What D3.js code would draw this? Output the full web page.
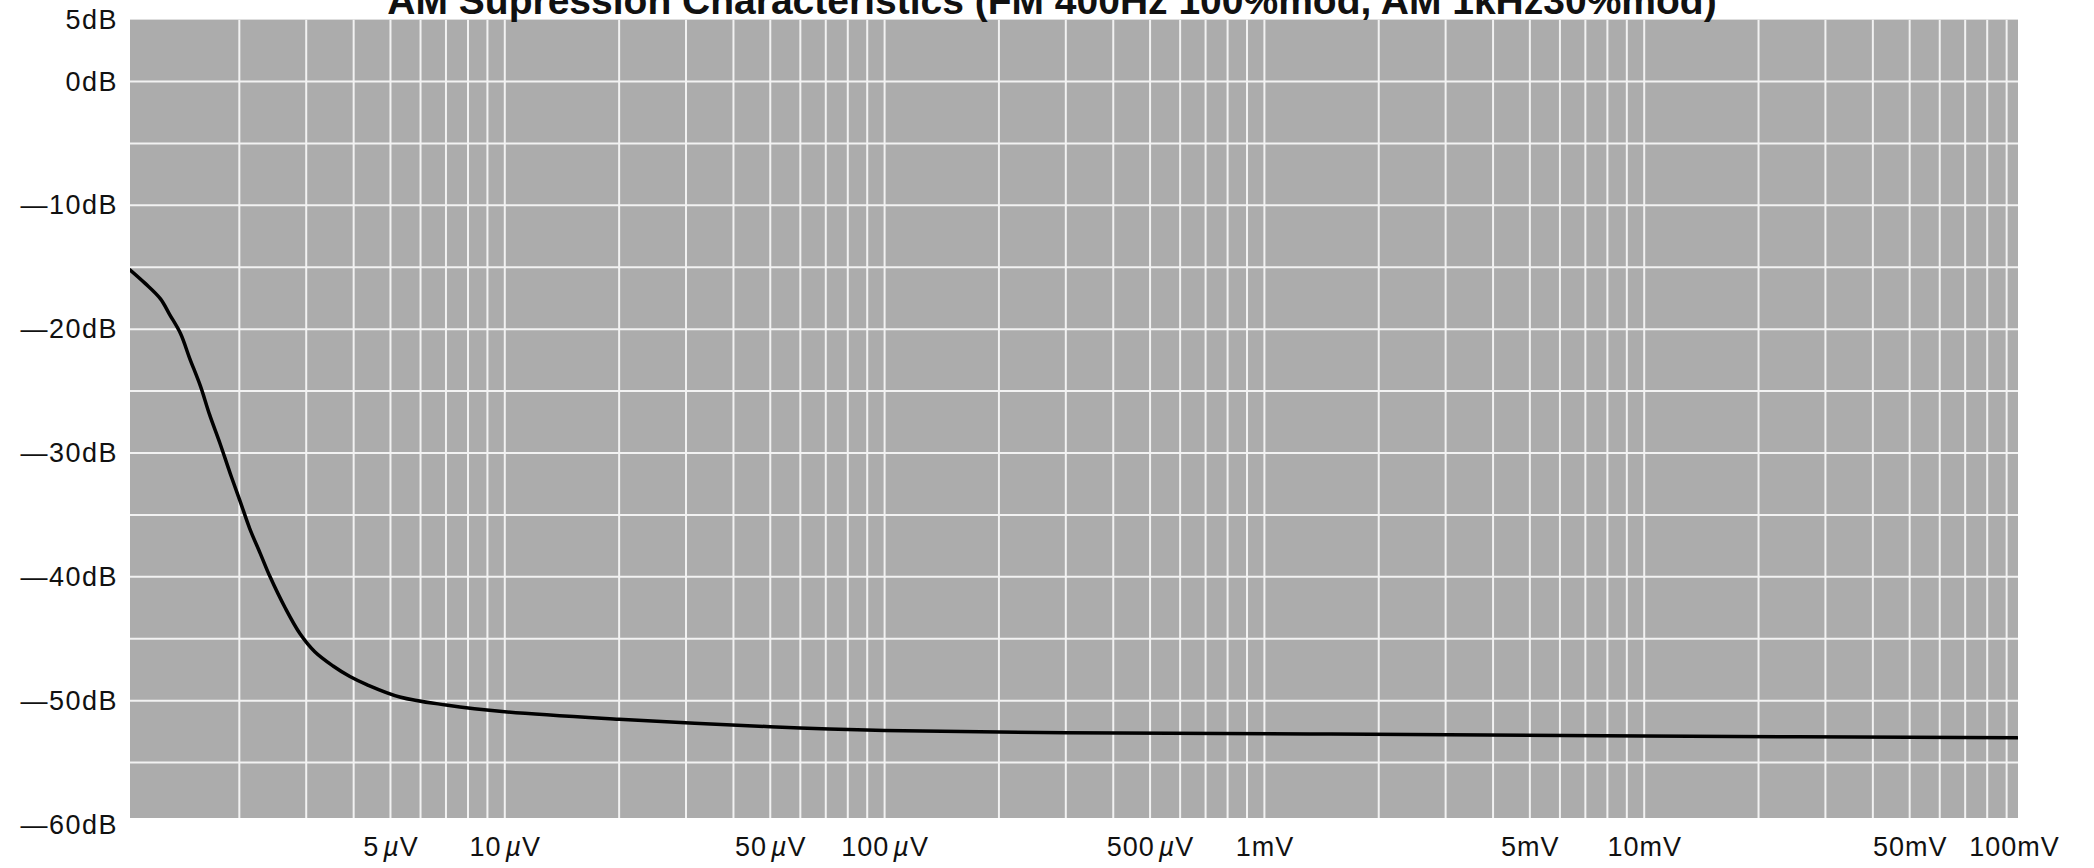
<!DOCTYPE html>
<html>
<head>
<meta charset="utf-8">
<script src="https://cdn.jsdelivr.net/npm/d3@7"></script>
<style>
  html, body { margin: 0; padding: 0; background: #ffffff; }
  svg { display: block; }
  text { font-family: "Liberation Sans", Arial, Helvetica, sans-serif; fill: #111; }
</style>
</head>
<body>
<svg id="chart" width="2094" height="868"></svg>
<script>
// ---- data ----
const titleText = "AM Supression Characteristics (FM 400Hz 100%mod, AM 1kHz30%mod)";
// input level in microvolts
const inputMicroVolts = [1.03, 1.13, 1.24, 1.31, 1.40, 1.48, 1.58, 1.67, 1.78, 1.89, 2.01, 2.13, 2.27, 2.41, 2.64, 2.89, 3.16, 3.53, 3.91, 4.33, 5.29, 7, 10, 20, 50, 100, 300, 1500, 10000, 96000];
// AM suppression in dB
const suppressionDb = [-15.2, -16.3, -17.55, -18.8, -20.35, -22.35, -24.6, -26.9, -29.25, -31.6, -33.9, -36.1, -38.1, -40.0, -42.5, -44.6, -46.05, -47.2, -48.05, -48.7, -49.7, -50.35, -50.9, -51.5, -52.1, -52.4, -52.6, -52.7, -52.85, -53.0];
// axis ticks
const yTickValues = [5, 0, -10, -20, -30, -40, -50, -60];
const yGridValues = [0, -5, -10, -15, -20, -25, -30, -35, -40, -45, -50, -55];
const xTickValues = [5e-6, 1e-5, 5e-5, 1e-4, 5e-4, 1e-3, 5e-3, 1e-2, 5e-2, 1e-1];
const xTickLabels = ["5|µ|V", "10|µ|V", "50|µ|V", "100|µ|V", "500|µ|V", "1mV", "5mV", "10mV", "50mV", "100mV"];
const decades = [1e-6, 1e-5, 1e-4, 1e-3, 1e-2, 1e-1];
const multipliers = [1, 2, 3, 4, 5, 6, 7, 8, 9];

// ---- layout ----
const plotLeft = 130, plotRight = 2018, plotBottom = 818;
const svg = d3.select("#chart");

const x = d3.scaleLog().domain([1e-6, 1e-1]).range([125, 2024]);
const y = d3.scaleLinear().domain([-60, 5]).range([824.5, 19.6]);
const plotTop = y(5);

// plot background
svg.append("rect")
  .attr("x", plotLeft).attr("y", plotTop)
  .attr("width", plotRight - plotLeft).attr("height", plotBottom - plotTop)
  .attr("fill", "#acacac");

svg.append("clipPath").attr("id", "plotclip")
  .append("rect")
  .attr("x", plotLeft).attr("y", plotTop)
  .attr("width", plotRight - plotLeft).attr("height", plotBottom - plotTop);

const grid = svg.append("g").attr("clip-path", "url(#plotclip)");

// vertical grid lines (log)
const xGridValues = [];
decades.forEach(d => multipliers.forEach(m => xGridValues.push(d * m)));
grid.selectAll("line.vg")
  .data(xGridValues.filter(v => x(v) > plotLeft && x(v) < plotRight))
  .join("line")
  .attr("class", "vg")
  .attr("x1", d => x(d)).attr("x2", d => x(d))
  .attr("y1", plotTop).attr("y2", plotBottom)
  .attr("stroke", "#f2f2f2").attr("stroke-width", 2);

// horizontal grid lines
grid.selectAll("line.hg")
  .data(yGridValues)
  .join("line")
  .attr("class", "hg")
  .attr("x1", plotLeft).attr("x2", plotRight)
  .attr("y1", d => y(d)).attr("y2", d => y(d))
  .attr("stroke", "#f2f2f2").attr("stroke-width", 2);

// curve
const pts = inputMicroVolts.map((v, i) => [v * 1e-6, suppressionDb[i]]);
grid.append("path")
  .datum(pts)
  .attr("fill", "none")
  .attr("stroke", "#000")
  .attr("stroke-width", 3.5)
  .attr("stroke-linejoin", "round")
  .attr("stroke-linecap", "round")
  .attr("d", d3.line().x(d => x(d[0])).y(d => y(d[1])).curve(d3.curveCatmullRom.alpha(0.5)));

// y axis
const yAxis = svg.append("g")
  .attr("transform", `translate(${plotLeft},0)`)
  .call(d3.axisLeft(y).tickValues(yTickValues).tickSize(0).tickPadding(12)
    .tickFormat(d => d < 0 ? "\u2014" + (-d) + "dB" : d + "dB"));
yAxis.select(".domain").remove();
yAxis.selectAll("text")
  .style("font-family", '"Liberation Sans", Arial, sans-serif')
  .style("letter-spacing", "1.5px")
  .attr("font-size", 27).attr("fill", "#111");

// x axis
const xAxis = svg.append("g")
  .attr("transform", `translate(0,${plotBottom})`)
  .call(d3.axisBottom(x).tickValues(xTickValues).tickSize(0).tickPadding(19)
    .tickFormat((d, i) => xTickLabels[i].replace(/\|/g, "")));
xAxis.select(".domain").remove();
xAxis.selectAll("text")
  .style("font-family", '"Liberation Sans", Arial, sans-serif')
  .style("letter-spacing", "1px")
  .attr("font-size", 27).attr("fill", "#111")
  .each(function(d, i) {
    const parts = xTickLabels[i].split("|");
    const t = d3.select(this);
    t.text(null);
    if (parts.length === 3) {
      t.append("tspan").text(parts[0]);
      t.append("tspan").attr("dx", 4).attr("font-style", "italic").text(parts[1]);
      t.append("tspan").text(parts[2]);
    } else {
      t.append("tspan").text(parts[0]);
    }
  });
// the last label sits slightly left of its grid position in the reference
xAxis.selectAll(".tick").filter(d => d === 1e-1).select("text").attr("dx", -10);

// title (cut off at top as in the reference)
svg.append("text")
  .attr("x", 1052).attr("y", 14)
  .attr("text-anchor", "middle")
  .attr("font-size", 39).attr("font-weight", "bold")
  .text(titleText);
</script>
</body>
</html>
